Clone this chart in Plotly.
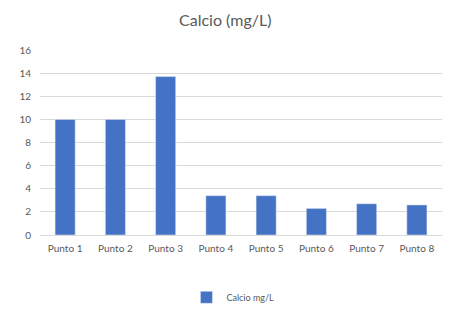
import plotly.graph_objects as go

categories = ["Punto 1", "Punto 2", "Punto 3", "Punto 4", "Punto 5", "Punto 6", "Punto 7", "Punto 8"]
calcio = [10.0, 10.0, 13.7, 3.4, 3.4, 2.3, 2.7, 2.6]
y_ticks = [0, 2, 4, 6, 8, 10, 12, 14, 16]

fig = go.Figure()
fig.add_trace(go.Bar(x=categories, y=calcio, name="Calcio mg/L",
                     marker=dict(color="#4472C4")))

fig.update_layout(
    width=447, height=301,
    margin=dict(l=32, r=13, t=42, b=74, autoexpand=False),
    paper_bgcolor="white", plot_bgcolor="white",
    font=dict(family="Lato, Carlito, sans-serif", color="#595959", size=10),
    title=dict(text="Calcio (mg/L)", x=0.486, xanchor="center", y=0.96, yanchor="middle",
               yref="container", font=dict(size=16, color="#595959")),
    bargap=0.6,
    showlegend=True,
    legend=dict(orientation="h", x=0.48, xanchor="center", y=-0.337, yanchor="middle",
                font=dict(size=9, color="#595959"), itemwidth=30),
    xaxis=dict(showgrid=False, showline=True, linecolor="#D9D9D9", ticks="",
               automargin=False, ticklabelstandoff=4,
               tickfont=dict(size=10, color="#595959")),
    yaxis=dict(range=[0, 16], tickvals=y_ticks, showgrid=True, gridcolor="#D9D9D9",
               zeroline=False, showline=False, ticks="", automargin=False,
               ticklabelstandoff=8,
               tickfont=dict(size=10, color="#595959")),
)

fig.write_html("out.html")
